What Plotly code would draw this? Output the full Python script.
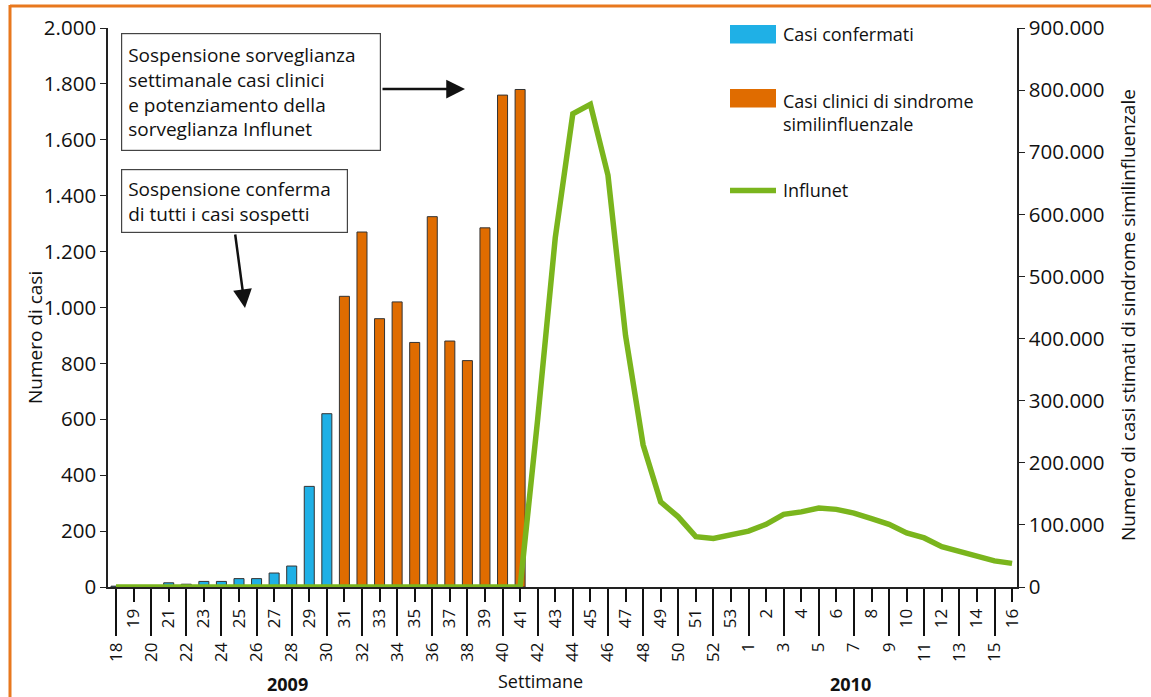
import plotly.graph_objects as go

# ---------------- data ----------------
weeks = ["18", "19", "20", "21", "22", "23", "24", "25", "26", "27", "28", "29", "30",
         "31", "32", "33", "34", "35", "36", "37", "38", "39", "40", "41", "42", "43",
         "44", "45", "46", "47", "48", "49", "50", "51", "52", "53",
         "1", "2", "3", "4", "5", "6", "7", "8", "9", "10", "11", "12", "13", "14", "15", "16"]

confirmed_weeks = ["18", "19", "20", "21", "22", "23", "24", "25", "26", "27", "28", "29", "30"]
confirmed = [3, None, None, 15, 10, 20, 20, 30, 30, 50, 75, 360, 620]

clinical_weeks = ["31", "32", "33", "34", "35", "36", "37", "38", "39", "40", "41"]
clinical = [1040, 1270, 960, 1020, 875, 1325, 880, 810, 1285, 1760, 1780]

influnet = [0, 0, 0, 0, 0, 0, 0, 0, 0, 0, 0, 0,
            0, 0, 0, 0, 0, 0, 0, 0, 0, 0, 0, 0,
            270000, 562000, 762000, 777000, 663000, 405000, 229000, 137000,
            113000, 81000, 78000, 84000,
            90000, 101000, 117000, 121000, 127000, 125000, 119000, 110000,
            101000, 87000, 79000, 65000, 57000, 50000, 42000, 38000]

left_ticks = [0, 200, 400, 600, 800, 1000, 1200, 1400, 1600, 1800, 2000]
right_ticks = [0, 100000, 200000, 300000, 400000, 500000, 600000, 700000, 800000, 900000]

# ---------------- layout helpers ----------------
W, H = 1151, 697
L, R, T, B = 108, 1017, 28, 587   # plot area in pixels


def px(xp):
    return (xp - L) / (R - L)


def py(yp):
    return (B - yp) / (B - T)


FONT = "Open Sans"
BLUE = "#1fb0e6"
ORANGE = "#e06c00"
GREEN = "#7ab51d"
FRAME = "#e8781e"

pos = list(range(len(weeks)))
even_pos = pos[0::2]
odd_pos = pos[1::2]

fig = go.Figure()

fig.add_trace(go.Bar(
    x=[weeks.index(w) for w in confirmed_weeks], y=confirmed,
    marker=dict(color=BLUE, line=dict(color="#333333", width=1)),
    width=0.57, name="Casi confermati", showlegend=False,
))
fig.add_trace(go.Bar(
    x=[weeks.index(w) for w in clinical_weeks], y=clinical,
    marker=dict(color=ORANGE, line=dict(color="#333333", width=1)),
    width=0.57, name="Casi clinici di sindrome similinfluenzale", showlegend=False,
))
fig.add_trace(go.Scatter(
    x=pos, y=influnet, yaxis="y2", mode="lines",
    line=dict(color=GREEN, width=5.5), name="Influnet", showlegend=False,
))
# dummy trace to activate the second (odd-week) x axis
fig.add_trace(go.Scatter(x=[None], y=[None], xaxis="x2", showlegend=False,
                         hoverinfo="skip"))

xr = [(L - 116) / 17.57, (R - 116) / 17.57]

fig.update_layout(
    width=W, height=H, autosize=False,
    margin=dict(l=L, r=W - R, t=T, b=H - B),
    paper_bgcolor="white", plot_bgcolor="white",
    separators=",.",
    barmode="overlay",
    font=dict(family=FONT, size=18, color="#111111"),
    xaxis=dict(
        range=xr, tickmode="array", tickvals=even_pos,
        ticktext=[weeks[i] for i in even_pos],
        ticks="outside", ticklen=47, tickwidth=2, tickcolor="#111111",
        tickangle=-90, tickfont=dict(size=17),
        showline=True, linecolor="#222222", linewidth=1.5,
        showgrid=False, zeroline=False,
    ),
    xaxis2=dict(
        range=xr, overlaying="x", side="bottom", anchor="y",
        tickmode="array", tickvals=odd_pos,
        ticktext=[weeks[i] for i in odd_pos],
        ticks="outside", ticklen=14, tickwidth=2, tickcolor="#111111",
        tickangle=-90, tickfont=dict(size=17),
        showline=False, showgrid=False, zeroline=False,
    ),
    yaxis=dict(
        range=[0, 2000], tickmode="array", tickvals=left_ticks,
        tickformat=",d", ticks="outside", ticklen=6, tickwidth=1.2,
        tickcolor="#222222", tickfont=dict(size=20.5),
        showline=True, linecolor="#222222", linewidth=1.5,
        showgrid=False, zeroline=False,
    ),
    yaxis2=dict(
        range=[0, 900000], overlaying="y", side="right",
        tickmode="array", tickvals=right_ticks,
        tickformat=",d", ticks="outside", ticklen=6, tickwidth=1.2,
        tickcolor="#222222", tickfont=dict(size=20.5),
        showline=True, linecolor="#222222", linewidth=1.5,
        showgrid=False, zeroline=False,
    ),
)

shapes = []
# orange frame (top and left)
shapes.append(dict(type="line", xref="paper", yref="paper",
                   x0=px(10), x1=px(W + 5), y0=py(6), y1=py(6),
                   line=dict(color=FRAME, width=3)))
shapes.append(dict(type="line", xref="paper", yref="paper",
                   x0=px(10), x1=px(10), y0=py(5), y1=py(H + 5),
                   line=dict(color=FRAME, width=3)))
# legend swatches
shapes.append(dict(type="rect", xref="paper", yref="paper",
                   x0=px(730), x1=px(776), y0=py(25), y1=py(43.5),
                   fillcolor=BLUE, line=dict(width=0)))
shapes.append(dict(type="rect", xref="paper", yref="paper",
                   x0=px(730), x1=px(776), y0=py(89), y1=py(107.5),
                   fillcolor=ORANGE, line=dict(width=0)))
shapes.append(dict(type="line", xref="paper", yref="paper",
                   x0=px(730), x1=px(776), y0=py(190.5), y1=py(190.5),
                   line=dict(color=GREEN, width=5.5)))
fig.update_layout(shapes=shapes)


def text_ann(text, x, y, size=18, xanchor="center", angle=0, align="center"):
    return dict(text=text, x=px(x), y=py(y), xref="paper", yref="paper",
                xanchor=xanchor, yanchor="middle", align=align, textangle=angle,
                showarrow=False, font=dict(size=size))


ann = []
# legend texts
ann.append(text_ann("Casi confermati", 781, 34, xanchor="left"))
ann.append(text_ann("Casi clinici di sindrome<br>similinfluenzale", 781, 112.5,
                    xanchor="left", align="left"))
ann.append(text_ann("Influnet", 781, 190.5, xanchor="left"))

# boxes
ann.append(dict(text="Sospensione sorveglianza<br>settimanale casi clinici<br>e potenziamento della<br>sorveglianza Influnet",
                x=px(121), y=py(33), xref="paper", yref="paper",
                xanchor="left", yanchor="top", align="left", valign="middle",
                width=246, height=104, borderpad=6, borderwidth=1.2,
                bordercolor="#444444", bgcolor="white",
                showarrow=False, font=dict(size=19)))
ann.append(dict(text="Sospensione conferma<br>di tutti i casi sospetti",
                x=px(121), y=py(169), xref="paper", yref="paper",
                xanchor="left", yanchor="top", align="left", valign="middle",
                width=213, height=50, borderpad=6, borderwidth=1.2,
                bordercolor="#444444", bgcolor="white",
                showarrow=False, font=dict(size=19)))
# arrows
ann.append(dict(text="", x=px(465), y=py(89), xref="paper", yref="paper",
                showarrow=True, ax=-84, ay=0, arrowhead=2, arrowsize=1.5,
                arrowwidth=2.5, arrowcolor="#111111", standoff=0))
ann.append(dict(text="", x=px(245), y=py(308), xref="paper", yref="paper",
                showarrow=True, ax=-10, ay=-75, arrowhead=2, arrowsize=1.5,
                arrowwidth=2.5, arrowcolor="#111111", standoff=0))

# axis titles and year labels
ann.append(text_ann("Numero di casi", 35, 338, size=19, angle=-90))
ann.append(text_ann("Numero di casi stimati di sindrome similinfluenzale", 1128, 315,
                    size=19, angle=-90))
ann.append(text_ann("Settimane", 540, 681))
ann.append(text_ann("<b>2009</b>", 287, 684))
ann.append(text_ann("<b>2010</b>", 850, 684))
fig.update_layout(annotations=ann)

fig.write_html("out.html", config={"displayModeBar": False},
               post_script="document.body.style.margin='0px';document.body.style.overflow='hidden';")
